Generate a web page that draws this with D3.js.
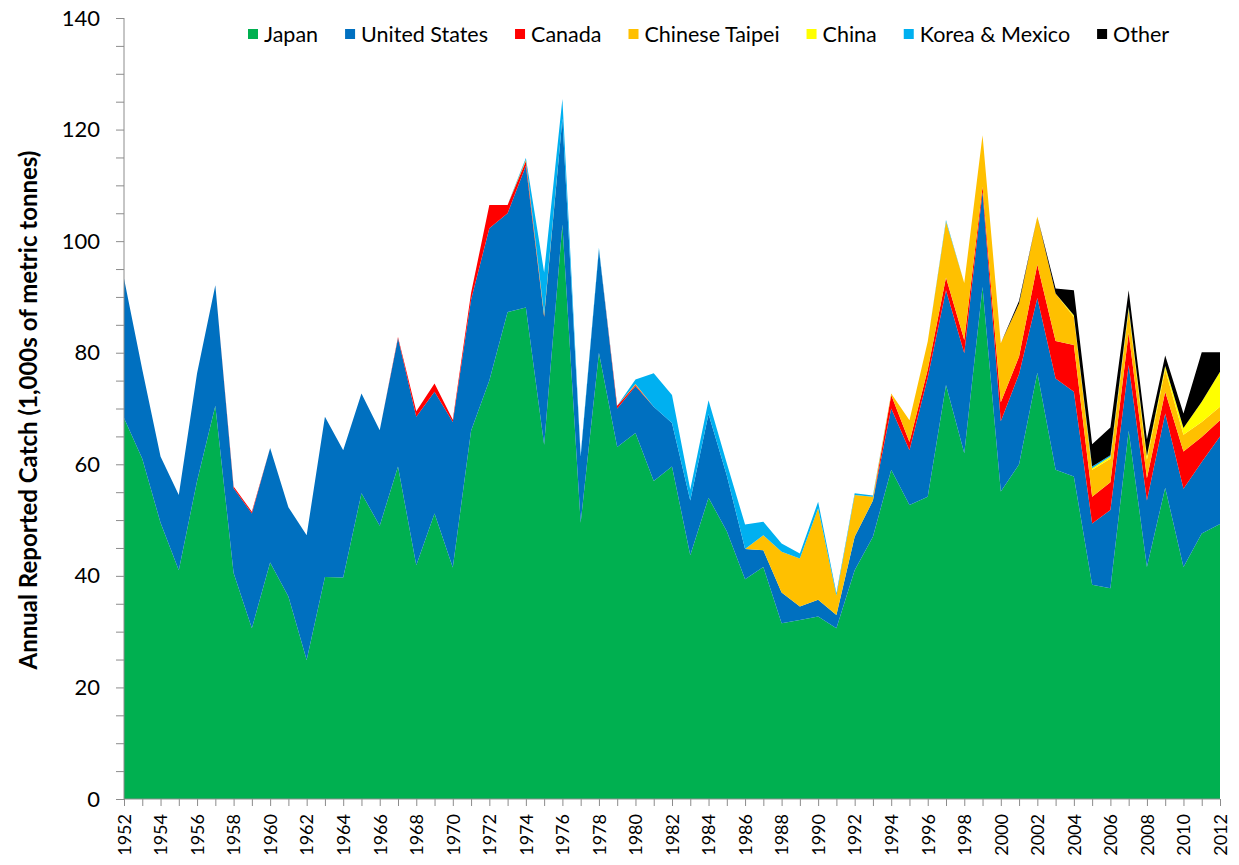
<!DOCTYPE html>
<html>
<head>
<meta charset="utf-8">
<script src="https://cdn.jsdelivr.net/npm/d3@7"></script>
<style>
  body { margin: 0; background: #fff; }
  text { font-family: Lato, "Open Sans", sans-serif; fill: #000; }
  .axis path, .axis line { stroke: #8c8c8c; }
</style>
</head>
<body>
<div id="chart"></div>
<script>
// years on the x axis
var years = d3.range(1952, 2013)

// catch by fleet, 1,000s of metric tonnes
var japan = [
  68.3, 61, 49.5, 41, 57, 70.5, 40.5, 30.6, 42.4, 36.3,
  24.9, 39.8, 39.7, 54.8, 49, 59.6, 41.9, 51.2, 41.5, 66,
  75, 87.3, 88.1, 63.5, 103, 49.5, 80, 63.1, 65.6, 57,
  59.6, 43.7, 54, 48, 39.4, 41.6, 31.5, 32.1, 32.7, 30.6,
  41, 47, 59, 52.7, 54.2, 74.2, 62, 91.8, 55.1, 60,
  76.4, 59, 57.8, 38.4, 37.8, 66, 41.6, 55.8, 41.6, 47.6,
  49.3]
var unitedStates = [
  25, 16, 11.9, 13.5, 19.3, 21.6, 15.2, 20.6, 20.5, 16,
  22.4, 28.7, 22.8, 17.9, 17.1, 23, 26.6, 21.8, 26.1, 23.5,
  27.3, 17.7, 25.4, 22.9, 19, 11.9, 18.5, 6.9, 8.4, 13.3,
  7.8, 9.8, 15, 10, 5.4, 3, 5.5, 2.4, 3, 2.4,
  6, 6.5, 11, 9.8, 21.3, 17, 17.9, 17, 12.6, 16.2,
  13.4, 16.4, 15.2, 11, 14, 11.8, 11.9, 13.3, 14, 12.8,
  15.7]
var canada = [
  0, 0, 0, 0, 0, 0, 0.3, 0.3, 0, 0,
  0, 0, 0, 0, 0, 0.2, 1, 1.5, 0.4, 1.2,
  4.2, 1.5, 0.8, 0.2, 0, 0, 0, 0.5, 0.2, 0,
  0, 0, 0, 0, 0, 0, 0, 0, 0, 0,
  0, 0, 2.4, 1.5, 1.5, 2.3, 2.4, 1, 3.4, 3.1,
  6, 6.7, 8.4, 4.8, 5, 5.8, 4, 3.9, 6.7, 4.5,
  2.9]
var chineseTaipei = [
  0, 0, 0, 0, 0, 0, 0, 0, 0, 0,
  0, 0, 0, 0, 0, 0, 0, 0, 0, 0,
  0, 0, 0.3, 0.3, 0, 0, 0, 0, 0.2, 0,
  0, 0, 0, 0, 0, 2.7, 7.3, 8.6, 16.4, 3.5,
  7.5, 0.7, 0.3, 3.9, 5, 10, 10.2, 9.2, 10.6, 9.5,
  8.6, 8.5, 5, 4.8, 4.2, 4, 3.3, 4, 3, 2.7,
  2.4]
var china = [
  0, 0, 0, 0, 0, 0, 0, 0, 0, 0,
  0, 0, 0, 0, 0, 0, 0, 0, 0, 0,
  0, 0, 0, 0, 0, 0, 0, 0, 0, 0,
  0, 0, 0, 0, 0, 0, 0, 0, 0, 0,
  0, 0, 0, 0, 0, 0, 0, 0, 0, 0,
  0, 0, 0.3, 0.3, 0.4, 0.4, 0.7, 0.6, 1.2, 3.6,
  6.3]
var koreaMexico = [
  0, 0, 0, 0, 0, 0, 0, 0, 0, 0,
  0, 0, 0, 0, 0, 0, 0, 0, 0, 0,
  0, 0, 0.3, 7.5, 3.5, 0.3, 0.3, 0, 0.8, 6,
  5, 2, 2.5, 2.2, 4.4, 2.4, 1.5, 0.9, 1.2, 0.4,
  0.3, 0.2, 0, 0, 0, 0.3, 0, 0, 0, 0,
  0, 0, 0, 0.3, 0.2, 0.2, 0, 0, 0, 0,
  0]
var other = [
  0, 0, 0, 0, 0, 0, 0, 0, 0, 0,
  0, 0, 0, 0, 0, 0, 0, 0, 0, 0,
  0, 0, 0, 0, 0, 0, 0, 0, 0, 0,
  0, 0, 0, 0, 0, 0, 0, 0, 0, 0,
  0, 0, 0, 0, 0, 0, 0, 0, 0, 0.5,
  0, 0.9, 4.5, 4, 5, 3, 3, 1.9, 2.6, 8.9,
  3.5]

var seriesNames = ['Japan', 'United States', 'Canada', 'Chinese Taipei', 'China', 'Korea & Mexico', 'Other']
var seriesValues = [japan, unitedStates, canada, chineseTaipei, china, koreaMexico, other]
var seriesColors = ['#00b050', '#0070c0', '#ff0000', '#ffc000', '#ffff00', '#00b0f0', '#000000']

var yTicks = d3.range(0, 141, 5)

// page size and plot box
var svgWidth = 1239
var svgHeight = 865
var margin = { top: 18, left: 124, right: 19, bottom: 66 }

var svg = d3.select('#chart')
  .append('svg')
  .attr('width', svgWidth)
  .attr('height', svgHeight)

// scales
var xPositionScale = d3.scaleLinear()
  .domain([1952, 2012])
  .range([margin.left, svgWidth - margin.right])

var yPositionScale = d3.scaleLinear()
  .domain([0, 140])
  .range([svgHeight - margin.bottom, margin.top])

// one row per year, then stack
var rows = years.map(function(year, i) {
  var row = { year: year }
  seriesNames.forEach(function(name, k) {
    row[name] = seriesValues[k][i]
  })
  return row
})

var stacked = d3.stack().keys(seriesNames)(rows)

var area = d3.area()
  .x(function(d) { return xPositionScale(d.data.year) })
  .y0(function(d) { return yPositionScale(d[0]) })
  .y1(function(d) { return yPositionScale(d[1]) })

svg.append('g')
  .selectAll('path')
  .data(stacked)
  .enter()
  .append('path')
  .attr('d', area)
  .attr('fill', function(d, i) { return seriesColors[i] })

// y axis, small ticks every 5, labels every 20
var yAxis = d3.axisLeft(yPositionScale)
  .tickValues(yTicks)
  .tickSize(8)
  .tickPadding(16)
  .tickFormat(function(d) { return d % 20 === 0 ? d : '' })

svg.append('g')
  .attr('class', 'axis y-axis')
  .attr('transform', 'translate(' + margin.left + ',0)')
  .call(yAxis)
  .call(function(g) { g.select('.domain').attr('d', 'M0,' + yPositionScale(140) + 'V' + yPositionScale(0)) })
  .selectAll('text')
  .style('font-size', '22px')

// x axis, tick every year, label every other year
var xAxis = d3.axisBottom(xPositionScale)
  .tickValues(years)
  .tickSize(7)
  .tickFormat(function(d) { return d % 2 === 0 ? d : '' })

var xg = svg.append('g')
  .attr('class', 'axis x-axis')
  .attr('transform', 'translate(0,' + yPositionScale(0) + ')')
  .call(xAxis)

xg.select('.domain').attr('d', 'M' + xPositionScale(1952) + ',0H' + xPositionScale(2012))

xg.selectAll('text')
  .style('font-size', '18px')
  .attr('text-anchor', 'end')
  .attr('y', 0)
  .attr('dy', '0.35em')
  .attr('transform', 'translate(0,15) rotate(-90)')

// axis title
svg.append('text')
  .text('Annual Reported Catch (1,000s of metric tonnes)')
  .attr('transform', 'translate(29,' + 410 + ') rotate(-90)')
  .attr('text-anchor', 'middle')
  .attr('dy', '0.35em')
  .style('font-size', '24px')
  .style('font-weight', 'bold')

// legend across the top
var legend = svg.append('g')
  .attr('class', 'legend')
var legendX = 248
seriesNames.forEach(function(name, i) {
  var item = legend.append('g')
    .attr('transform', 'translate(' + legendX + ',29)')
  item.append('rect')
    .attr('width', 10)
    .attr('height', 10)
    .attr('fill', seriesColors[i])
  var label = item.append('text')
    .text(name)
    .attr('x', 16)
    .attr('y', 5)
    .attr('dy', '0.35em')
    .style('font-size', '21.5px')
  legendX = legendX + 16 + label.node().getComputedTextLength() + 27
})
</script>
</body>
</html>
